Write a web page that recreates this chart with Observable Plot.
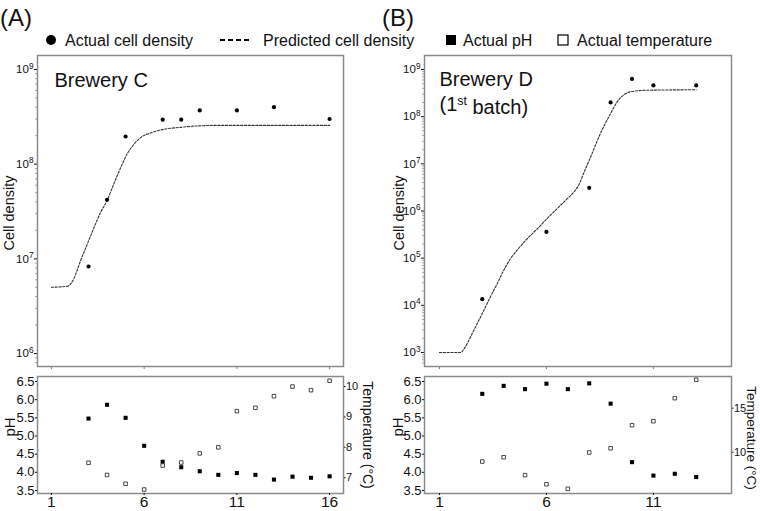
<!DOCTYPE html>
<html><head><meta charset="utf-8">
<script src="https://cdn.jsdelivr.net/npm/d3@7"></script>
<script src="https://cdn.jsdelivr.net/npm/@observablehq/plot@0.6"></script>
<style>
body{margin:0;background:#fff;}
#wrap{position:relative;width:760px;height:511px;overflow:hidden;background:#fff;}
#wrap > svg{position:absolute;}
</style></head><body><div id="wrap"></div>
<script>
// ---------------- DATA ----------------
// Panel (A) Brewery C
const cellDaysC = [3, 4, 5, 7, 8, 9, 11, 13, 16];
const cellC = [8.3e6, 4.2e7, 1.96e8, 2.95e8, 2.95e8, 3.7e8, 3.7e8, 4.0e8, 3.0e8];
const predDaysC = [1, 1.85, 2.06, 2.21, 2.39, 2.57, 2.84, 3.11, 3.38, 3.65, 4.01, 4.28, 4.55, 4.82, 5.09, 5.45, 5.81, 6.35, 7.07, 7.97, 8.51, 10, 12, 14, 16];
const predC = [5.01e6, 5.13e6, 5.5e6, 6.17e6, 7.59e6, 9.55e6, 1.29e7, 1.74e7, 2.34e7, 3.09e7, 4.17e7, 5.62e7, 7.59e7, 1.0e8, 1.29e8, 1.62e8, 1.91e8, 2.14e8, 2.34e8, 2.45e8, 2.51e8, 2.57e8, 2.57e8, 2.57e8, 2.57e8];
const envDaysC = [3, 4, 5, 6, 7, 8, 9, 10, 11, 12, 13, 14, 15, 16];
const phC = [5.48, 5.86, 5.50, 4.73, 4.29, 4.14, 4.03, 3.93, 3.98, 3.93, 3.80, 3.88, 3.85, 3.89];
const tempC = [7.49, 7.09, 6.80, 6.61, 7.40, 7.50, 7.80, 8.00, 9.19, 9.30, 9.68, 10.0, 9.88, 10.19];

// Panel (B) Brewery D (1st batch)
const cellDaysD = [3, 6, 8, 9, 10, 11, 13];
const cellD = [1.35e4, 3.6e5, 3.1e6, 2.0e8, 6.3e8, 4.6e8, 4.6e8];
const predDaysD = [1, 1.98, 2.21, 2.45, 2.76, 3.07, 3.38, 3.70, 4.0, 4.32, 4.63, 5.10, 5.57, 6.03, 6.50, 6.97, 7.28, 7.51, 7.74, 8.06, 8.52, 8.99, 9.30, 9.61, 10.08, 10.71, 13];
const predD = [1000, 1000, 1318, 2138, 4074, 7762, 1.51e4, 2.88e4, 5.5e4, 9.77e4, 1.48e5, 2.57e5, 4.17e5, 6.92e5, 1.12e6, 1.82e6, 2.51e6, 3.55e6, 6.3e6, 1.38e7, 4.37e7, 1.15e8, 2.04e8, 2.88e8, 3.47e8, 3.63e8, 3.72e8];
const envDaysD = [3, 4, 5, 6, 7, 8, 9, 10, 11, 12, 13];
const phD = [6.16, 6.38, 6.29, 6.44, 6.29, 6.45, 5.89, 4.28, 3.91, 3.96, 3.87];
const tempD = [8.94, 9.43, 7.39, 6.36, 5.84, 9.97, 10.45, 13.07, 13.52, 16.14, 18.23];

// Tick values / labels
const xTicksC = [1, 6, 11, 16];
const xTicksD = [1, 6, 11];
const cellTicksC = [1e6, 1e7, 1e8, 1e9];
const cellTicksD = [1e3, 1e4, 1e5, 1e6, 1e7, 1e8, 1e9];
const phTicks = [3.5, 4.0, 4.5, 5.0, 5.5, 6.0, 6.5];
const tempTicksC = [7, 8, 9, 10];
const tempTicksD = [10, 15];
const legendLabels = ["Actual cell density", "Predicted cell density", "Actual pH", "Actual temperature"];

// ---------------- HELPERS ----------------
const FONT = '"Liberation Sans", Arial, Helvetica, sans-serif';
const wrap = document.getElementById("wrap");
const zip = (xs, ys) => xs.map((x, i) => ({x, y: ys[i]}));
function minorTicks(majors) {
  const out = [];
  const all = [majors[0] / 10, ...majors];
  for (const t of all) for (let k = 2; k <= 9; k++) out.push(k * t);
  return out;
}
function place(svg, left, top) {
  svg.style.left = left + "px";
  svg.style.top = top + "px";
  wrap.appendChild(svg);
  return svg;
}
function postProcess(svg) {
  d3.select(svg).selectAll("text").each(function () {
    const t = this.textContent;
    const m = /^10\^(\d+)$/.exec(t);
    if (m) {
      const s = d3.select(this);
      s.text("10");
      s.append("tspan").attr("dy", "-0.55em").attr("font-size", "0.72em").text(m[1]);
    }
    if (t === "(1st batch)") {
      const s = d3.select(this);
      s.text("(1");
      s.append("tspan").attr("dy", "-0.45em").attr("font-size", "0.62em").text("st");
      s.append("tspan").attr("dy", "0.45em").text(" batch)");
    }
  });
  return svg;
}
const baseStyle = {fontFamily: FONT, background: "transparent", color: "#111", overflow: "visible"};

function topPanel(o) {
  return postProcess(Plot.plot({
    width: 380, height: 372, marginTop: 55, marginBottom: 6, marginLeft: o.mL, marginRight: o.mR,
    style: {...baseStyle, fontSize: "11px"},
    x: {domain: o.xDomain, label: null},
    y: {type: "log", domain: o.yDomain, label: null},
    marks: [
      Plot.axisY(minorTicks(o.yTicks).filter(v => v > o.yDomain[0] && v < o.yDomain[1]), {tickSize: 2, tickFormat: () => "", stroke: "#aaa", label: null}),
      Plot.axisY(o.yTicks, {tickSize: 3, tickPadding: 1, tickFormat: d => "10^" + Math.round(Math.log10(d)), fontSize: 11.5, label: null}),
      Plot.axisX(o.xTicks, {tickSize: 3, tickFormat: () => "", stroke: "#777", label: null}),
      Plot.frame({stroke: "#8a8a8a", strokeWidth: 1.5}),
      Plot.line(zip(o.predDays, o.pred), {x: "x", y: "y", curve: "monotone-x", stroke: "#333", strokeWidth: 1.1, strokeDasharray: "2.2,1.6"}),
      Plot.dot(zip(o.cellDays, o.cell), {x: "x", y: "y", r: 2.1, fill: "#000"}),
      ...o.titles.map((t, i) => Plot.text([t], {text: d => d, frameAnchor: "top-left", dx: o.tdx, dy: o.tdy + i * 25, fontSize: 20, fill: "#111"})),
      Plot.text(["Cell density"], {text: d => d, frameAnchor: "left", dx: o.ldx, rotate: -90, textAnchor: "middle", lineAnchor: "middle", fontSize: 14.5, dy: 2, fill: "#111"})
    ]
  }));
}

function phPanel(o) {
  return Plot.plot({
    width: 380, height: 139, marginTop: 4, marginBottom: 18, marginLeft: o.mL, marginRight: o.mR,
    style: {...baseStyle, fontSize: "13px"},
    x: {domain: o.xDomain, label: null},
    y: {domain: [3.417, 6.638], label: null},
    marks: [
      Plot.frame({stroke: "#8a8a8a", strokeWidth: 1.5}),
      Plot.axisY(phTicks, {tickSize: 2, tickPadding: 1, tickFormat: d3.format(".1f"), fontSize: 13, label: null}),
      Plot.axisX(o.xTicks, {tickSize: 2, tickPadding: 0, fontSize: 15.5, label: null}),
      Plot.dot(zip(o.days, o.ph), {x: "x", y: "y", symbol: "square", r: 2.3, fill: "#000"}),
      Plot.text(["pH"], {text: d => d, frameAnchor: "left", dx: o.ldx, dy: -8, rotate: -90, textAnchor: "middle", lineAnchor: "middle", fontSize: 15, fill: "#111"})
    ]
  });
}

function tempPanel(o) {
  return Plot.plot({
    width: 380, height: 139, marginTop: 4, marginBottom: 18, marginLeft: o.mL, marginRight: o.mR,
    style: {...baseStyle, fontSize: "11px"},
    x: {domain: o.xDomain, axis: null, label: null},
    y: {domain: o.tDomain, label: null},
    marks: [
      Plot.axisY(o.tTicks, {anchor: "right", tickSize: 1.5, tickPadding: 1, fontSize: 11, label: null}),
      Plot.dot(zip(o.days, o.temp), {x: "x", y: "y", symbol: "square", r: 2.0, fill: "#fff", stroke: "#333", strokeWidth: 0.9}),
      Plot.text(["Temperature (°C)"], {text: d => d, frameAnchor: "right", dx: o.tdx, dy: o.tdy, rotate: 90, textAnchor: "middle", lineAnchor: "middle", fontSize: o.tfs, fill: "#111"})
    ]
  });
}

// ---------------- PANELS ----------------
const xDomC = [0.25, 16.75];
const xDomD = [0.3, 14.65];

place(topPanel({mL: 37, mR: 37, xDomain: xDomC, yDomain: [Math.pow(10, 5.863), Math.pow(10, 9.148)], yTicks: cellTicksC, xTicks: xTicksC,
  cellDays: cellDaysC, cell: cellC, predDays: predDaysC, pred: predC, titles: ["Brewery C"], tdx: 17, tdy: 17, ldx: -28}), 0, 0);
place(topPanel({mL: 44, mR: 29, xDomain: xDomD, yDomain: [Math.pow(10, 2.703), Math.pow(10, 9.297)], yTicks: cellTicksD, xTicks: xTicksD,
  cellDays: cellDaysD, cell: cellD, predDays: predDaysD, pred: predD, titles: ["Brewery D", "(1st batch)"], tdx: 15, tdy: 16, ldx: -25}), 380, 0);

place(phPanel({mL: 37, mR: 37, xDomain: xDomC, xTicks: xTicksC, days: envDaysC, ph: phC, ldx: -27}), 0, 372);
place(tempPanel({mL: 37, mR: 37, xDomain: xDomC, tDomain: [6.48, 10.33], tTicks: tempTicksC, days: envDaysC, temp: tempC, tdx: 24, tdy: 0, tfs: 14}), 0, 372);
place(phPanel({mL: 44, mR: 29, xDomain: xDomD, xTicks: xTicksD, days: envDaysD, ph: phD, ldx: -26}), 380, 372);
place(tempPanel({mL: 44, mR: 29, xDomain: xDomD, tDomain: [5.31, 18.6], tTicks: tempTicksD, days: envDaysD, temp: tempD, tdx: 20, tdy: 3, tfs: 13.5}), 380, 372);

// ---------------- LEGEND & PANEL LETTERS ----------------
const leg = d3.create("svg").attr("width", 760).attr("height", 60)
  .attr("font-family", FONT).style("left", "0px").style("top", "0px");
leg.append("text").attr("x", 0).attr("y", 26).attr("font-size", 24).attr("fill", "#111").text("(A)");
leg.append("text").attr("x", 382).attr("y", 26).attr("font-size", 24).attr("fill", "#111").text("(B)");
leg.append("circle").attr("cx", 51).attr("cy", 40).attr("r", 5).attr("fill", "#000");
leg.append("text").attr("x", 65).attr("y", 46).attr("font-size", 16).attr("fill", "#111").text(legendLabels[0]);
leg.append("line").attr("x1", 220).attr("x2", 251).attr("y1", 40).attr("y2", 40).attr("stroke", "#000").attr("stroke-width", 2).attr("stroke-dasharray", "5,3");
leg.append("text").attr("x", 263).attr("y", 46).attr("font-size", 16).attr("fill", "#111").text(legendLabels[1]);
leg.append("rect").attr("x", 446).attr("y", 35).attr("width", 10).attr("height", 10).attr("fill", "#000");
leg.append("text").attr("x", 463).attr("y", 46).attr("font-size", 16).attr("fill", "#111").text(legendLabels[2]);
leg.append("rect").attr("x", 558).attr("y", 35).attr("width", 10).attr("height", 10).attr("fill", "none").attr("stroke", "#000").attr("stroke-width", 1.2);
leg.append("text").attr("x", 577).attr("y", 46).attr("font-size", 16).attr("fill", "#111").text(legendLabels[3]);
wrap.appendChild(leg.node());
</script>
</body></html>
